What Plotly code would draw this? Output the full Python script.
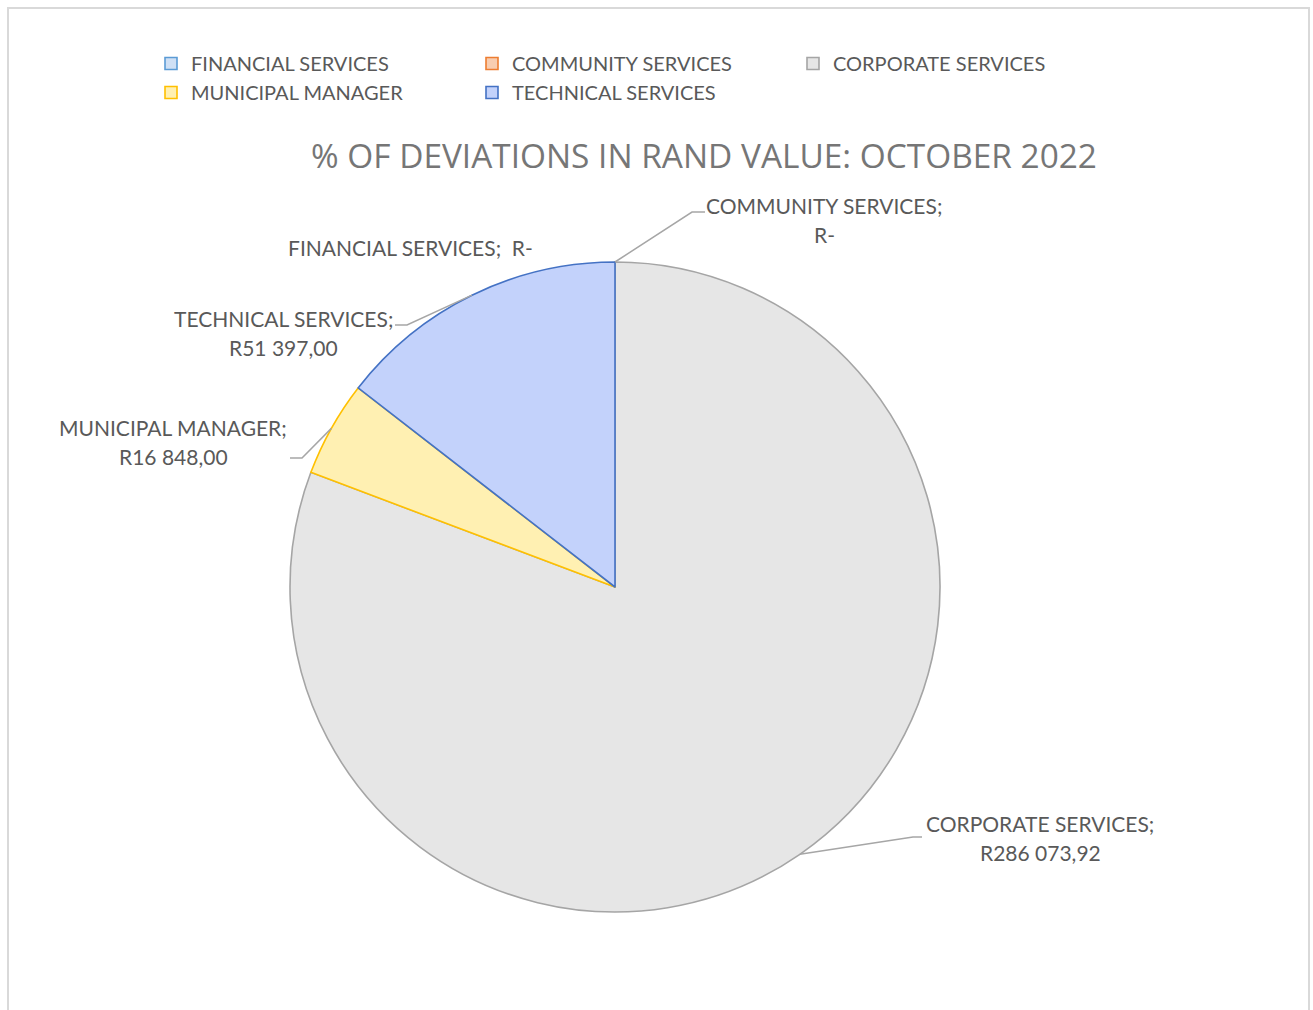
import math
import plotly.graph_objects as go

# Deviations in rand value per department, October 2022
departments = ["FINANCIAL SERVICES", "COMMUNITY SERVICES", "CORPORATE SERVICES",
               "MUNICIPAL MANAGER", "TECHNICAL SERVICES"]
rand_values = [0.0, 0.0, 286073.92, 16848.00, 51397.00]

fill_colors = ["#cfe0f5", "#f8cdb0", "#e6e6e6", "#fff0b2", "#c3d2fb"]
line_colors = ["#5b9bd5", "#ed7d31", "#a5a5a5", "#ffc000", "#4472c4"]

W, H = 1313, 1010
MARGIN_R = 150             # narrows the plot area so the legend wraps into 3 columns
PW = W - MARGIN_R          # plot-area width that paper coordinates refer to
CX, CY, R = 615, 587, 325  # pie centre and radius in pixels

TEXT = "#595959"
FONT = "Lato"


def px(x):
    return x / PW


def py(y):
    return 1 - y / H


def rand_label(v):
    if v == 0:
        return "R-"
    whole, frac = f"{v:,.2f}".split(".")
    return "R" + whole.replace(",", " ") + "," + frac


fig = go.Figure(go.Pie(
    labels=departments,
    values=rand_values,
    sort=False,
    direction="clockwise",
    rotation=0,
    textinfo="none",
    hoverinfo="label+value",
    marker=dict(colors=fill_colors, line=dict(color=line_colors, width=1.6)),
    domain=dict(x=[px(CX - R), px(CX + R)], y=[py(CY + R), py(CY - R)]),
    showlegend=True,
))

# angle (clockwise from 12 o'clock) at the middle of each slice
total = sum(rand_values)
mid_angles = []
acc = 0.0
for v in rand_values:
    mid_angles.append(360 * (acc + v / 2) / total)
    acc += v


def edge_point(i):
    a = math.radians(mid_angles[i])
    return CX + R * math.sin(a), CY - R * math.cos(a)


# label block layout: (centre x, first-line y, elbow, leader end) in pixels
label_layout = {
    "COMMUNITY SERVICES": (824, 206, (692, 212), (705, 212)),
    "CORPORATE SERVICES": (1040, 823, (913, 837), (922, 837)),
    "MUNICIPAL MANAGER": (173, 428, (302, 458), (290, 458)),
    "TECHNICAL SERVICES": (283, 318, (407, 325), (395, 325)),
}

annotations = []
shapes = []
for i, name in enumerate(departments):
    value_text = rand_label(rand_values[i])
    if name in label_layout:
        cx, y1, elbow, end = label_layout[name]
        annotations.append(dict(x=px(cx), y=py(y1), text=name + ";", showarrow=False,
                                xref="paper", yref="paper", xanchor="center", yanchor="middle",
                                font=dict(family=FONT, size=21, color=TEXT)))
        annotations.append(dict(x=px(cx), y=py(y1 + 29), text=value_text, showarrow=False,
                                xref="paper", yref="paper", xanchor="center", yanchor="middle",
                                font=dict(family=FONT, size=21, color=TEXT)))
        ex, ey = edge_point(i)
        path = (f"M {px(ex)},{py(ey)} L {px(elbow[0])},{py(elbow[1])} "
                f"L {px(end[0])},{py(end[1])}")
        shapes.append(dict(type="path", path=path, xref="paper", yref="paper",
                           line=dict(color="#a6a6a6", width=1.5)))
    else:
        annotations.append(dict(x=px(410), y=py(247), text=name + ";  " + value_text,
                                showarrow=False, xref="paper", yref="paper",
                                xanchor="center", yanchor="middle",
                                font=dict(family=FONT, size=21, color=TEXT)))

# chart-area border
shapes.append(dict(type="rect", xref="paper", yref="paper",
                   x0=px(8), x1=px(1309), y0=py(1030), y1=py(8),
                   line=dict(color="#d9d9d9", width=2), fillcolor="rgba(0,0,0,0)",
                   layer="below"))

annotations.append(dict(x=px(704), y=py(155), text="% OF DEVIATIONS IN RAND VALUE: OCTOBER 2022",
                        showarrow=False, xref="paper", yref="paper",
                        xanchor="center", yanchor="middle",
                        font=dict(family="Open Sans", size=33.4, color="#767676")))

fig.update_layout(
    width=W, height=H,
    margin=dict(l=0, r=MARGIN_R, t=0, b=0, autoexpand=False),
    paper_bgcolor="white",
    plot_bgcolor="white",
    legend=dict(orientation="h", x=px(151), y=py(44), xanchor="left", yanchor="top",
                entrywidth=276, entrywidthmode="pixels",
                font=dict(family=FONT, size=20, color=TEXT),
                tracegroupgap=0, itemclick=False),
    annotations=annotations,
    shapes=shapes,
)

fig.write_html("out.html")
